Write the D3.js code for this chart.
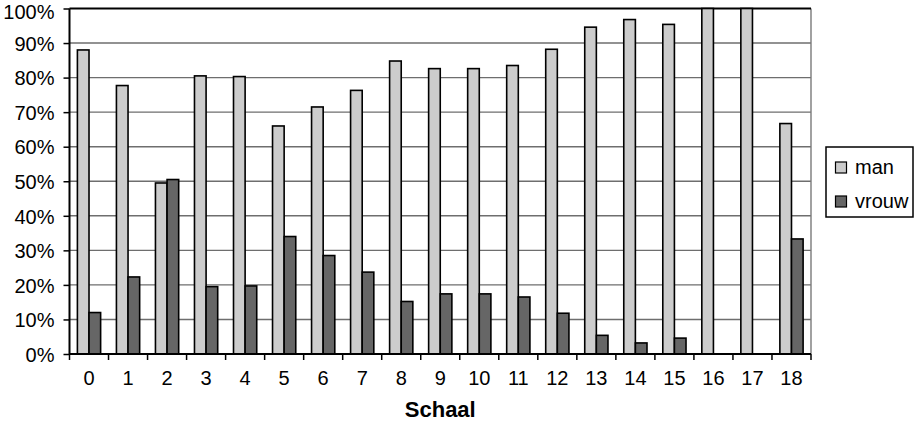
<!DOCTYPE html>
<html><head><meta charset="utf-8">
<script src="https://cdn.jsdelivr.net/npm/d3@7/dist/d3.min.js"></script>
<style>body{margin:0;background:#fff}svg{display:block;font-family:"Liberation Sans",Arial,sans-serif}</style>
</head><body><svg id="c" width="920" height="421"></svg>
<script>
const categories = ["0","1","2","3","4","5","6","7","8","9","10","11","12","13","14","15","16","17","18"];
const man   = [88, 77.7, 49.5, 80.5, 80.3, 66, 71.5, 76.3, 84.8, 82.6, 82.6, 83.5, 88.2, 94.6, 96.8, 95.4, 100, 100, 66.7];
const vrouw = [12, 22.3, 50.5, 19.5, 19.7, 34, 28.5, 23.7, 15.2, 17.4, 17.4, 16.5, 11.8, 5.4, 3.2, 4.6, 0, 0, 33.3];
const seriesNames = ["man", "vrouw"];
const yTicks = [0,10,20,30,40,50,60,70,80,90,100];
const colors = {man:"#cccccc", vrouw:"#666666"};

const svg = d3.select("#c");
const L = 69.5, R = 811, T = 8.5, B = 354;
const x = d3.scaleBand().domain(categories).range([L, R]).paddingInner(0).paddingOuter(0);
const x1 = d3.scaleBand().domain(seriesNames).range([0, x.bandwidth()]).paddingInner(0).paddingOuter(0.68);
const y = d3.scaleLinear().domain([0,100]).range([B, T]);

// gridlines
svg.append("g").selectAll("line").data(yTicks.filter(d=>d>0 && d<100)).join("line")
  .attr("x1", L).attr("x2", R).attr("y1", d=>y(d)).attr("y2", d=>y(d))
  .attr("stroke", "#6e6e6e").attr("stroke-width", 1.4);
// right border gray
svg.append("line").attr("x1", R).attr("x2", R).attr("y1", T).attr("y2", B).attr("stroke","#7a7a7a").attr("stroke-width",1.4);
// top border
svg.append("line").attr("x1", L).attr("x2", R).attr("y1", T).attr("y2", T).attr("stroke","#000").attr("stroke-width",2);

const data = categories.map((c,i)=>({c, vals:[{k:"man",v:man[i]},{k:"vrouw",v:vrouw[i]}]}));
const g = svg.append("g").selectAll("g").data(data).join("g").attr("transform", d=>`translate(${x(d.c)},0)`);
g.selectAll("rect").data(d=>d.vals.filter(e=>e.v>0)).join("rect")
  .attr("x", d=>x1(d.k)).attr("width", x1.bandwidth())
  .attr("y", d=>y(d.v)).attr("height", d=>B-y(d.v))
  .attr("fill", d=>colors[d.k]).attr("stroke","#000").attr("stroke-width",1.6);

const FONT = '"Liberation Sans",Arial,sans-serif';
// axes
const yAxis = svg.append("g").attr("transform",`translate(${L},0)`)
  .call(d3.axisLeft(y).tickValues(yTicks).tickFormat(d=>d+"%").tickSize(6).tickPadding(9));
yAxis.select(".domain").attr("stroke","#000").attr("stroke-width",2).attr("d",`M0,${B}V${T}`);
yAxis.selectAll(".tick line").attr("stroke","#000").attr("stroke-width",1.5);
yAxis.selectAll("text").attr("font-size",20).attr("fill","#000").attr("font-family",FONT)
  .attr("dy", d => d===100 ? "0.5em" : "0.36em");

const xAxis = svg.append("g").attr("transform",`translate(0,${B})`)
  .call(d3.axisBottom(x).tickSize(0).tickPadding(17));
xAxis.select(".domain").attr("stroke","#000").attr("stroke-width",2).attr("d",`M${L},0H${R}`);
xAxis.selectAll("text").attr("font-size",20).attr("fill","#000").attr("font-family",FONT);
// tick marks at category boundaries
svg.append("g").selectAll("line").data(categories.map(c=>x(c)).concat([R])).join("line")
  .attr("x1",d=>d).attr("x2",d=>d).attr("y1",B).attr("y2",B+6).attr("stroke","#000").attr("stroke-width",1.5);

svg.append("text").attr("x",(L+R)/2).attr("y",417).attr("text-anchor","middle")
  .attr("font-size",22).attr("font-weight","bold").text("Schaal");

// legend
const lg = svg.append("g");
lg.append("rect").attr("x",826).attr("y",147).attr("width",87).attr("height",70).attr("fill","#fff").attr("stroke","#000").attr("stroke-width",1.5);
seriesNames.forEach((s,i)=>{
  const cy = 167.5 + i*34;
  lg.append("rect").attr("x",835.5).attr("y",cy-5.5).attr("width",11).attr("height",11).attr("fill",colors[s]).attr("stroke","#000").attr("stroke-width",1.2);
  lg.append("text").attr("x",855).attr("y",cy+6.5).attr("font-size",20).text(s);
});
</script></body></html>
